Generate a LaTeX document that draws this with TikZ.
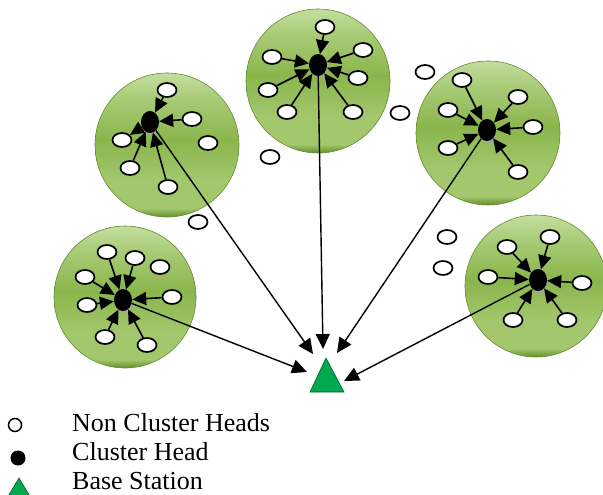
\documentclass[tikz,border=0pt]{standalone}
\usepackage{fontspec}
\setmainfont{Liberation Serif}
\usetikzlibrary{shapes.geometric,arrows.meta}
\definecolor{gTop}{RGB}{196,221,158}
\definecolor{gUp}{RGB}{168,203,118}
\definecolor{gMid}{RGB}{138,181,76}
\definecolor{gLow}{RGB}{162,199,108}
\definecolor{gRim}{RGB}{100,140,45}
\definecolor{bsgreen}{RGB}{0,168,80}
\definecolor{bsedge}{RGB}{0,95,40}
\pgfdeclareverticalshading{greenball}{100bp}{color(0bp)=(gRim); color(25bp)=(gRim); color(28bp)=(gLow); color(38bp)=(gLow); color(52bp)=(gMid); color(66bp)=(gUp); color(75bp)=(gTop); color(100bp)=(gTop)}
\begin{document}
\begin{tikzpicture}[x=1pt,y=-1pt,
  cluster/.style={circle, shading=greenball, draw=gRim, line width=0.6pt, inner sep=0pt},
  nch/.style={ellipse, draw=black, line width=1.7pt, fill=white, minimum width=19pt, minimum height=14pt, inner sep=0pt},
  chd/.style={ellipse, fill=black, minimum width=18pt, minimum height=22pt, inner sep=0pt},
  chs/.style={ellipse, fill=gray!70, minimum width=15pt, minimum height=18pt, inner sep=0pt},
  arr/.style={line width=1.6pt, -{Triangle[length=14pt,width=13pt]}},
  rarr/.style={line width=1.6pt, {Triangle[length=14pt,width=13pt]}-},
  bsarr/.style={line width=1.4pt, -{Triangle[length=15pt,width=14pt]}},
  legtxt/.style={anchor=west, inner sep=0pt, font=\fontsize{26}{29}\selectfont}]
\useasboundingbox (0,0) rectangle (603,495);
% clusters
\node[cluster, minimum size=144pt] (cl1) at (167,145) {};
\node[cluster, minimum size=144pt] (cl2) at (318,81) {};
\node[cluster, minimum size=144pt] (cl3) at (488,133) {};
\node[cluster, minimum size=142pt] (cl4) at (125,297) {};
\node[cluster, minimum size=142pt] (cl5) at (536,286) {};
% cluster heads (shadow first)
\node[chs] at (151,126) {};
\node[chs] at (319,69) {};
\node[chs] at (488,134) {};
\node[chs] at (125,304) {};
\node[chs] at (539,284) {};
\node[chd] (ch1) at (150,122) {};
\node[chd] (ch2) at (318,65) {};
\node[chd] (ch3) at (487,130) {};
\node[chd] (ch4) at (123,300) {};
\node[chd] (ch5) at (538,280) {};
% base station
\coordinate (bsA) at (326,358);
\coordinate (bsL) at (310,392);
\coordinate (bsR) at (344,392);
\fill[bsgreen, draw=bsedge, line width=0.6pt] (bsA) -- (bsR) -- (bsL) -- cycle;
\coordinate (bs1) at (313,354);
\coordinate (bs2) at (323,349);
\coordinate (bs3) at (337,353);
\coordinate (bs4) at (307,372);
\coordinate (bs5) at (344,381);
\draw[bsarr] (ch1) -- (bs1);
\draw[bsarr] (ch2) -- (bs2);
\draw[bsarr] (ch3) -- (bs3);
\draw[bsarr] (ch4) -- (bs4);
\draw[bsarr] (ch5) -- (bs5);
% cluster 1 members
\node[nch] (a1) at (167,90) {};
\node[nch] (a2) at (192,119) {};
\node[nch] (a3) at (208,143) {};
\node[nch] (a4) at (122,140) {};
\node[nch] (a5) at (130,168) {};
\node[nch] (a6) at (168,187) {};
\draw[arr] (a1) -- (ch1);
\draw[arr] (a2) -- (ch1);
\draw[rarr] (a4) -- (ch1);
\draw[arr] (a5) -- (ch1);
\draw[arr] (a6) -- (ch1);
% cluster 2 members
\node[nch] (b1) at (325,27) {};
\node[nch] (b2) at (272,57) {};
\node[nch] (b3) at (363,50) {};
\node[nch] (b4) at (268,90) {};
\node[nch] (b5) at (358,78) {};
\node[nch] (b6) at (287,112) {};
\node[nch] (b7) at (353,112) {};
\foreach \n in {b1,b2,b3,b4,b5,b6,b7} \draw[arr] (\n) -- (ch2);
% cluster 3 members
\node[nch] (c1) at (462,80) {};
\node[nch] (c2) at (518,97) {};
\node[nch] (c3) at (448,110) {};
\node[nch] (c4) at (533,127) {};
\node[nch] (c5) at (448,148) {};
\node[nch] (c6) at (518,172) {};
\foreach \n in {c1,c2,c3,c4,c5,c6} \draw[arr] (\n) -- (ch3);
% cluster 4 members
\node[nch] (d1) at (107,252) {};
\node[nch] (d2) at (135,258) {};
\node[nch] (d3) at (160,267) {};
\node[nch] (d4) at (85,277) {};
\node[nch] (d5) at (172,297) {};
\node[nch] (d6) at (87,305) {};
\node[nch] (d7) at (105,337) {};
\node[nch] (d8) at (147,345) {};
\foreach \n in {d1,d2,d4,d5,d6,d7,d8} \draw[arr] (\n) -- (ch4);
% cluster 5 members
\node[nch] (e1) at (507,247) {};
\node[nch] (e2) at (550,237) {};
\node[nch] (e3) at (488,277) {};
\node[nch] (e4) at (582,283) {};
\node[nch] (e5) at (513,320) {};
\node[nch] (e6) at (567,320) {};
\foreach \n in {e1,e2,e3,e4,e5,e6} \draw[arr] (\n) -- (ch5);
% free nodes
\node[nch] (f1) at (270,157) {};
\node[nch] (f2) at (425,72) {};
\node[nch] (f3) at (400,113) {};
\node[nch] (f4) at (198,222) {};
\node[nch] (f5) at (447,237) {};
\node[nch] (f6) at (443,268) {};
% legend
\node[circle, draw=black, line width=1.5pt, fill=white, minimum size=13pt, inner sep=0pt] (l1) at (15,425) {};
\node[circle, fill=black, minimum size=15pt, inner sep=0pt] (l2) at (18,458) {};
\fill[bsgreen, draw=bsedge, line width=0.6pt] (19,478) -- (31,498) -- (7,498) -- cycle;
\node[legtxt] (t1) at (72,423) {Non Cluster Heads};
\node[legtxt] (t2) at (72,452) {Cluster Head};
\node[legtxt] (t3) at (72,481) {Base Station};
\end{tikzpicture}
\end{document}
